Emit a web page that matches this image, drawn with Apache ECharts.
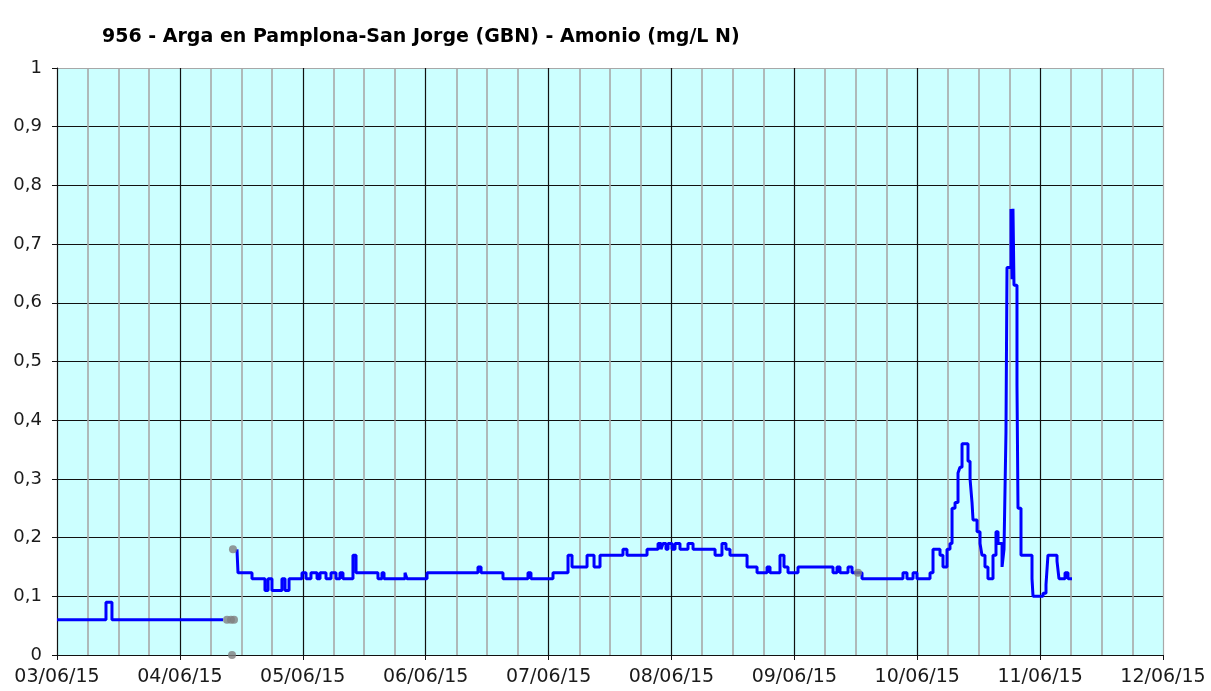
<!DOCTYPE html>
<html>
<head>
<meta charset="utf-8">
<script src="https://cdn.jsdelivr.net/npm/echarts@6/dist/echarts.min.js"></script>
<style>
html,body{margin:0;padding:0;background:#fff;}
#chart{width:1211px;height:691px;}
</style>
</head>
<body>
<div id="chart"></div>
<script>
const titleText = '956 - Arga en Pamplona-San Jorge (GBN) - Amonio (mg/L N)';
const axisStart = '2015-06-03 00:00';
const axisEnd = '2015-06-12 00:00';
const yTicks = [0, 0.1, 0.2, 0.3, 0.4, 0.5, 0.6, 0.7, 0.8, 0.9, 1];

const seg1Times = ['2015-06-03 00:00','2015-06-03 09:34','2015-06-03 10:44','2015-06-04 08:25'];
const seg1Values = [0.06, 0.09, 0.06, 0.06];

const seg2Times = [
'2015-06-04 11:09','2015-06-04 11:21','2015-06-04 14:05','2015-06-04 16:37','2015-06-04 17:13','2015-06-04 17:59',
'2015-06-04 19:56','2015-06-04 20:32','2015-06-04 21:19','2015-06-04 23:51','2015-06-05 00:38','2015-06-05 01:36',
'2015-06-05 02:47','2015-06-05 03:22','2015-06-05 04:32','2015-06-05 05:31','2015-06-05 06:29','2015-06-05 07:16',
'2015-06-05 07:51','2015-06-05 09:48','2015-06-05 10:24','2015-06-05 14:41','2015-06-05 15:28','2015-06-05 15:52',
'2015-06-05 19:58','2015-06-05 20:21','2015-06-06 00:16','2015-06-06 10:13','2015-06-06 10:49','2015-06-06 15:06',
'2015-06-06 19:59','2015-06-06 20:34','2015-06-07 00:52','2015-06-07 03:48','2015-06-07 04:35','2015-06-07 07:31',
'2015-06-07 08:53','2015-06-07 10:03','2015-06-07 14:32','2015-06-07 15:19','2015-06-07 19:14','2015-06-07 21:23',
'2015-06-07 21:58','2015-06-07 22:21','2015-06-07 22:56','2015-06-07 23:20','2015-06-08 00:07','2015-06-08 00:42',
'2015-06-08 01:40','2015-06-08 03:14','2015-06-08 04:13','2015-06-08 08:31','2015-06-08 09:52','2015-06-08 10:39',
'2015-06-08 11:26','2015-06-08 14:46','2015-06-08 16:43','2015-06-08 18:40','2015-06-08 19:15','2015-06-08 21:12',
'2015-06-08 21:59','2015-06-08 22:46','2015-06-09 00:43','2015-06-09 07:33','2015-06-09 08:20','2015-06-09 08:55',
'2015-06-09 10:29','2015-06-09 11:16','2015-06-09 13:13','2015-06-09 21:13','2015-06-09 22:00','2015-06-09 23:11',
'2015-06-09 23:57','2015-06-10 02:30','2015-06-10 03:05','2015-06-10 04:27','2015-06-10 05:02','2015-06-10 05:49',
'2015-06-10 06:24','2015-06-10 06:48','2015-06-10 07:23','2015-06-10 07:58','2015-06-10 08:21','2015-06-10 08:45',
'2015-06-10 09:55','2015-06-10 10:19','2015-06-10 10:42','2015-06-10 10:54','2015-06-10 11:41','2015-06-10 12:16',
'2015-06-10 12:39','2015-06-10 13:14','2015-06-10 13:49','2015-06-10 14:48','2015-06-10 15:23','2015-06-10 15:47',
'2015-06-10 16:34','2015-06-10 16:57','2015-06-10 17:20','2015-06-10 17:32','2015-06-10 18:19','2015-06-10 18:31',
'2015-06-10 18:42','2015-06-10 18:54','2015-06-10 19:29','2015-06-10 19:41','2015-06-10 20:16','2015-06-10 22:25',
'2015-06-10 22:37','2015-06-11 00:34','2015-06-11 01:09','2015-06-11 01:32','2015-06-11 03:18','2015-06-11 03:41',
'2015-06-11 04:52','2015-06-11 05:27','2015-06-11 06:14'
];
const seg2Values = [
0.18,0.14,0.13,0.11,0.13,0.11,
0.13,0.11,0.13,0.14,0.13,0.14,
0.13,0.14,0.13,0.14,0.13,0.14,
0.13,0.17,0.14,0.13,0.14,0.13,
0.14,0.13,0.14,0.15,0.14,0.13,
0.14,0.13,0.14,0.17,0.15,0.17,
0.15,0.17,0.18,0.17,0.18,0.19,
0.18,0.19,0.18,0.19,0.18,0.19,
0.18,0.19,0.18,0.17,0.19,0.18,
0.17,0.15,0.14,0.15,0.14,0.17,
0.15,0.14,0.15,0.14,0.15,0.14,
0.15,0.14,0.13,0.14,0.13,0.14,
0.13,0.14,0.18,0.17,0.15,0.18,
0.19,0.25,0.26,0.31,0.32,0.36,
0.33,0.30,0.26,0.23,0.21,0.19,
0.17,0.15,0.13,0.17,0.21,0.19,
0.15,0.18,0.38,0.66,0.76,0.64,
0.76,0.63,0.46,0.25,0.17,0.13,
0.10,0.105,0.12,0.17,0.16,0.13,
0.14,0.13,0.13
];

const gapTimes = ['2015-06-04 09:12','2015-06-04 09:59','2015-06-04 10:34','2015-06-04 10:11','2015-06-04 10:22','2015-06-09 12:26'];
const gapValues = [0.06, 0.06, 0.06, 0, 0.18, 0.14];

function toMs(s) {
  const m = s.match(/(\d+)-(\d+)-(\d+) (\d+):(\d+)/);
  return Date.UTC(+m[1], +m[2] - 1, +m[3], +m[4], +m[5]);
}
function pairs(ts, vs) { return ts.map((t, i) => [toMs(t), vs[i]]); }
function pad(n) { return (n < 10 ? '0' : '') + n; }

const DAY = 86400000;
const font = '"DejaVu Sans", Verdana, sans-serif';
const xColors = [];
for (let i = 0; i < 10; i++) xColors.push(i === 9 ? '#a8a8a8' : '#111111');
const yColors = yTicks.map((v, i) => i === yTicks.length - 1 ? '#a8a8a8' : '#111111');

const chart = echarts.init(document.getElementById('chart'), null, {renderer: 'canvas'});
chart.setOption({
  animation: false,
  backgroundColor: '#ffffff',
  title: {
    text: titleText,
    left: 97, top: 23,
    textStyle: {fontFamily: font, fontSize: 19, fontWeight: 'bold', color: '#000'}
  },
  grid: {
    left: 57, top: 68, width: 1106, height: 587,
    show: true, backgroundColor: '#ccffff', borderWidth: 0
  },
  xAxis: {
    type: 'value',
    min: toMs(axisStart), max: toMs(axisEnd), interval: DAY,
    axisLine: {show: true, lineStyle: {color: '#111', width: 1}},
    axisTick: {show: true, length: 5, lineStyle: {color: '#111'}},
    axisLabel: {
      margin: 13, fontFamily: font, fontSize: 19, color: '#1a1a1a',
      formatter: function (v) {
        const d = new Date(v);
        return pad(d.getUTCDate()) + '/' + pad(d.getUTCMonth() + 1) + '/' + pad(d.getUTCFullYear() % 100);
      }
    },
    splitLine: {show: true, lineStyle: {color: xColors, width: 1.2}},
    minorTick: {show: false, splitNumber: 4},
    minorSplitLine: {show: true, lineStyle: {color: '#a8a8a8', width: 1.6}}
  },
  yAxis: {
    type: 'value',
    min: yTicks[0], max: yTicks[yTicks.length - 1], interval: 0.1,
    axisLine: {show: true, lineStyle: {color: '#111', width: 1}},
    axisTick: {show: true, length: 5, lineStyle: {color: '#111'}},
    axisLabel: {
      margin: 15, fontFamily: font, fontSize: 18, color: '#1a1a1a',
      formatter: function (v) { return String(Math.round(v * 10) / 10).replace('.', ','); }
    },
    splitLine: {show: true, lineStyle: {color: yColors, width: 1.2}}
  },
  series: [
    {
      type: 'line', step: 'end', data: pairs(seg1Times, seg1Values),
      showSymbol: false, lineStyle: {color: '#0000ff', width: 3}, z: 3
    },
    {
      type: 'line', step: 'end', data: pairs(seg2Times, seg2Values),
      showSymbol: false, lineStyle: {color: '#0000ff', width: 3}, z: 3
    },
    {
      type: 'scatter', data: pairs(gapTimes, gapValues),
      symbol: 'circle', symbolSize: 8,
      itemStyle: {color: '#808080'}, z: 4
    }
  ]
});
</script>
</body>
</html>
